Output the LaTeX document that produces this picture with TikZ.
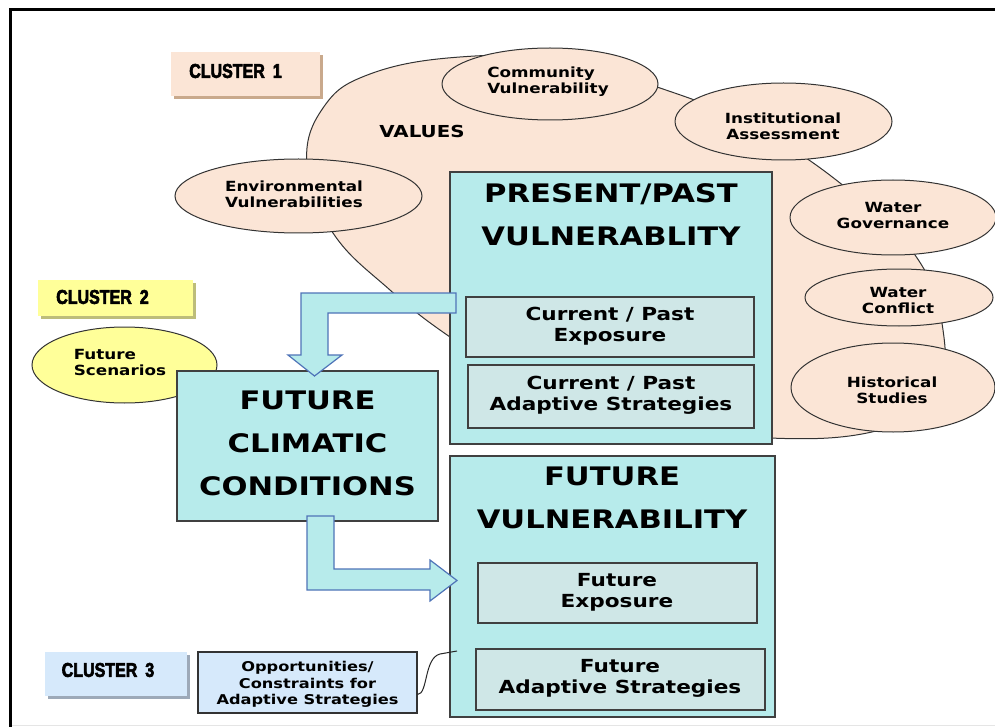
\documentclass[tikz,border=0pt]{standalone}
\usepackage{fontspec}
\usetikzlibrary{shapes.geometric}
\newfontfamily\vfont{DejaVu Sans}[FakeStretch=1.2]
\newfontfamily\clfont{Liberation Sans}[FakeStretch=0.8,FakeBold=3]
\newcommand\smtxt{\vfont\bfseries\fontsize{14}{16}\selectfont}
\newcommand\optxt{\vfont\bfseries\fontsize{13.5}{16.5}\selectfont}
\newcommand\mdtxt{\vfont\bfseries\fontsize{18}{21}\selectfont}
\newcommand\bgtxt{\vfont\bfseries\fontsize{25.5}{43}\selectfont}
\newcommand\cltxt{\clfont\bfseries\fontsize{20}{22}\selectfont}
\definecolor{peach}{HTML}{FBE5D6}
\definecolor{cyanbox}{HTML}{B7EBEB}
\definecolor{subcyan}{HTML}{CFE7E7}
\definecolor{yel}{HTML}{FFFF99}
\definecolor{lblue}{HTML}{D6E9FB}
\definecolor{arrowblue}{HTML}{4F74B8}
\definecolor{shtan}{HTML}{C9A98C}
\definecolor{shyel}{HTML}{BDBD7A}
\definecolor{shblue}{HTML}{9DA9B8}
\tikzset{
  ell/.style={ellipse, draw=black!80, line width=1pt, inner sep=0pt, fill=peach},
  bigbox/.style={rectangle, draw=black!75, fill=cyanbox, line width=1.3pt, inner sep=0pt},
  subbox/.style={rectangle, draw=black!75, fill=subcyan, line width=1.2pt, inner sep=0pt},
  clbox/.style={rectangle, inner sep=0pt},
  txt/.style={inner sep=0pt, align=center},
  smt/.style={txt, font=\smtxt},
  opt/.style={txt, font=\optxt},
  mdt/.style={txt, font=\mdtxt},
  bgt/.style={txt, font=\bgtxt},
  clt/.style={txt, font=\cltxt},
  blockarrow/.style={draw=arrowblue, fill=cyanbox, line width=1.2pt, line join=miter},
}
\begin{document}
\begin{tikzpicture}[x=1pt,y=-1pt]
\useasboundingbox (0,0) rectangle (995,727);
\fill[white] (0,0) rectangle (995,727);
% frame
\draw[black!10, line width=1pt] (10,725.5) -- (995,725.5);
\draw[line width=3pt] (10,727) -- (10,10) -- (995,10);

% cluster 1
\fill[shtan] (174,55) rectangle (323,99);
\node[clbox, fill=peach, minimum width=149pt, minimum height=44pt] (c1) at (245.5,74) {};
\node[clt] (c1t) at (235.5,71) {CLUSTER\hspace{8pt}1};

% values blob
\draw[fill=peach, draw=black!80, line width=1pt] plot[smooth cycle, tension=0.7] coordinates {(307,165) (323,108) (370,74) (460,57) (560,60) (660,88) (750,125) (840,183) (915,255) (943,330) (935,395) (880,430) (770,438) (640,420) (520,380) (450,337) (390,290) (333,233)};
\node[txt, font=\vfont\bfseries\fontsize{16.5}{18}\selectfont] (values) at (422,131) {VALUES};

% ellipses
\node[ell, minimum width=216pt, minimum height=72pt] (comm) at (550,84) {};
\node[smt, align=left] (commt) at (548,81.5) {Community\\Vulnerability};
\node[ell, minimum width=217pt, minimum height=77pt] (inst) at (783.5,121.5) {};
\node[smt] (instt) at (783,126) {Institutional\\Assessment};
\node[ell, minimum width=247pt, minimum height=74pt] (env) at (298.5,196) {};
\node[smt] (envt) at (294,194) {Environmental\\Vulnerabilities};
\node[ell, minimum width=206pt, minimum height=75pt] (wg) at (893,217.5) {};
\node[smt] (wgt) at (893,215) {Water\\Governance};
\node[ell, minimum width=188pt, minimum height=57pt] (wc) at (899,297.5) {};
\node[smt] (wct) at (898,300) {Water\\Conflict};
\node[ell, minimum width=204pt, minimum height=89pt] (hs) at (893,387.5) {};
\node[smt] (hst) at (892,390.5) {Historical\\Studies};

% present / past box
\node[bigbox, minimum width=322pt, minimum height=272pt] (pp) at (611,308) {};
\node[bgt] (ppt) at (611,214.5) {PRESENT/PAST\\VULNERABLITY};
\node[subbox, minimum width=288pt, minimum height=60pt] (cpe) at (610,327) {};
\node[mdt] (cpet) at (610,326.5) {Current / Past\\Exposure};
\node[subbox, minimum width=286pt, minimum height=63pt] (cpa) at (611,396.5) {};
\node[mdt] (cpat) at (611,395.5) {Current / Past\\Adaptive Strategies};

% cluster 2
\fill[shyel] (41,283) rectangle (196,319);
\node[clbox, fill=yel, minimum width=155pt, minimum height=36pt] (c2) at (115.5,298) {};
\node[clt] (c2t) at (102.5,297) {CLUSTER\hspace{8pt}2};
\node[ell, fill=yel, minimum width=185pt, minimum height=76pt] (fs) at (124.5,365) {};
\node[smt, align=left] (fst) at (120,362) {Future\\Scenarios};

% future climatic conditions
\node[bigbox, minimum width=261pt, minimum height=150pt] (fcc) at (307.5,446) {};
\node[bgt] (fcct) at (307.5,443) {FUTURE\\CLIMATIC\\CONDITIONS};

% future vulnerability
\node[bigbox, minimum width=325pt, minimum height=261pt] (fv) at (612.5,586.5) {};
\node[bgt] (fvt) at (612,498) {FUTURE\\VULNERABILITY};
\node[subbox, minimum width=279pt, minimum height=60pt] (fe) at (617.5,593) {};
\node[mdt] (fet) at (617,592.5) {Future\\Exposure};
\node[subbox, minimum width=289pt, minimum height=61pt] (fa) at (620.5,679.5) {};
\node[mdt] (fat) at (620,678.5) {Future\\Adaptive Strategies};

% cluster 3
\fill[shblue] (48,655) rectangle (190,699);
\node[clbox, fill=lblue, minimum width=142pt, minimum height=44pt] (c3) at (116,674) {};
\node[clt] (c3t) at (108,670) {CLUSTER\hspace{8pt}3};
\node[rectangle, draw=black!80, fill=lblue, line width=1.2pt, inner sep=0pt, minimum width=219pt, minimum height=61pt] (opp) at (307.5,682.5) {};
\node[opt] (oppt) at (307.5,684.5) {Opportunities/\\Constraints for\\Adaptive Strategies};

% block arrows
\draw[blockarrow] (456,293) -- (301,293) -- (301,355) -- (288,355) -- (314.5,376) -- (342,355) -- (328,355) -- (328,313) -- (456,313) -- cycle;
\draw[blockarrow] (307,516) -- (307,590) -- (430,590) -- (430,601) -- (457,580.5) -- (430,560) -- (430,569) -- (334,569) -- (334,516) -- cycle;

% squiggle connector
\coordinate (sqE) at (457,651);
\draw[black!85, line width=1pt] ([yshift=-12pt]opp.east) .. controls (428,694) and (424,658) .. (440,654) -- (sqE);
\end{tikzpicture}
\end{document}
